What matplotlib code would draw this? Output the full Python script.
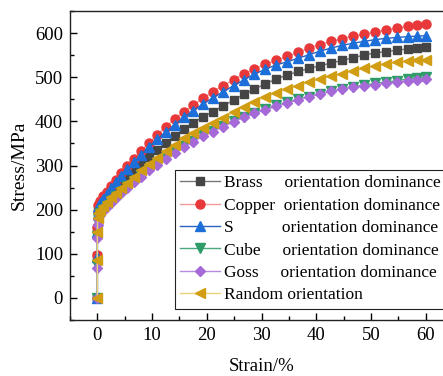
import matplotlib
matplotlib.use("Agg")
import matplotlib.pyplot as plt
from matplotlib.ticker import MultipleLocator

plt.rcParams['font.family'] = ['Liberation Serif', 'DejaVu Serif']

strain = [0, 0, 0, 0.05, 0.2, 0.5, 1.0, 1.7, 2.5, 3.4, 4.4, 5.5, 6.7, 8.0, 9.4, 10.9,
          12.5, 14.1, 15.8, 17.5, 19.3, 21.1, 23.0, 24.9, 26.8, 28.7, 30.7, 32.7,
          34.7, 36.7, 38.7, 40.7, 42.7, 44.7, 46.7, 48.7, 50.7, 52.7, 54.7, 56.7, 58.5, 60.0]

brass = [0, 95, 155, 188, 200, 210, 219, 229, 240, 251, 263, 276, 290, 304, 319, 335,
         352, 367, 382, 397, 410, 422, 435, 448, 461, 473, 485, 496,
         505, 513, 520, 526, 532, 538, 544, 550, 555, 558, 561, 564, 566, 568]

copper = [0, 97, 160, 195, 210, 220, 230, 240, 254, 268, 283, 298, 315, 333, 351, 369,
          388, 405, 422, 437, 452, 467, 481, 494, 507, 519, 529, 538,
          547, 556, 566, 574, 581, 587, 593, 597, 602, 607, 611, 615, 618, 620]

s_orient = [0, 92, 150, 190, 205, 215, 225, 236, 249, 262, 276, 291, 307, 324, 342, 359,
            376, 392, 409, 424, 439, 453, 467, 481, 494, 507, 518, 528,
            535, 543, 551, 559, 566, 572, 577, 581, 585, 588, 590, 592, 593, 594]

cube = [0, 75, 140, 170, 182, 192, 200, 209, 219, 230, 241, 253, 266, 279, 292, 305,
        318, 331, 344, 356, 368, 379, 390, 400, 410, 419, 428, 436,
        443, 450, 456, 462, 468, 473, 478, 482, 486, 489, 492, 496, 499, 501]

goss = [0, 67, 135, 165, 178, 188, 196, 205, 215, 226, 237, 249, 262, 275, 289, 302,
        315, 328, 341, 354, 366, 377, 388, 399, 409, 418, 426, 434,
        441, 449, 456, 462, 468, 473, 477, 480, 483, 486, 489, 492, 494, 496]

random_o = [0, 85, 150, 180, 192, 200, 208, 217, 228, 238, 249, 261, 275, 289, 303, 318,
            333, 347, 362, 374, 385, 396, 408, 421, 433, 444, 455, 465,
            473, 481, 489, 496, 502, 508, 514, 520, 525, 530, 534, 536, 538, 539]

labels = ["Brass     orientation dominance",
          "Copper  orientation dominance",
          "S           orientation dominance",
          "Cube     orientation dominance",
          "Goss     orientation dominance",
          "Random orientation"]

series = [brass, copper, s_orient, cube, goss, random_o]
markers = ['s', 'o', '^', 'v', 'D', '<']
mcolors = ['#454545', '#e8383a', '#1c6fd8', '#2e9c68', '#a66ad8', '#d19d12']
lcolors = ['#777777', '#f29a9a', '#2a62c0', '#4aa87e', '#b68ae0', '#ecd27a']
msizes = [5.5, 6.5, 6.5, 6.5, 5.5, 6.5]

fig = plt.figure(figsize=(4.43, 3.76), dpi=100)
ax = fig.add_axes([70/443, 1 - 320/376, 383/443, 309/376])

for y, m, mc, lc, ms, lab in zip(series, markers, mcolors, lcolors, msizes, labels):
    ax.plot(strain, y, color=lc, lw=1.0, marker=m, ms=ms, mfc=mc, mec=mc, label=lab)

ax.set_xlim(-5, 65)
ax.set_ylim(-50, 650)
ax.xaxis.set_minor_locator(MultipleLocator(5))
ax.yaxis.set_major_locator(MultipleLocator(100))
ax.yaxis.set_minor_locator(MultipleLocator(50))
ax.set_xticks([0, 10, 20, 30, 40, 50, 60])
ax.tick_params(which='both', direction='in', top=False, right=False, labelsize=13.5)
ax.tick_params(which='major', length=5, width=1, pad=5)
ax.tick_params(which='minor', length=3, width=1)
for sp in ax.spines.values():
    sp.set_linewidth(1.0)
    sp.set_color('#222222')

ax.set_xlabel("Strain/%", fontsize=13.5, labelpad=10)
ax.set_ylabel("Stress/MPa", fontsize=14, labelpad=5)

leg = ax.legend(loc='upper left', bbox_to_anchor=(175/443, 1 - 170/376),
                bbox_transform=fig.transFigure, fontsize=12.5, frameon=True,
                fancybox=False, edgecolor='#222222', framealpha=1,
                handlelength=2.3, handletextpad=0.2, labelspacing=0.36,
                borderpad=0.3, borderaxespad=0)
leg.get_frame().set_linewidth(0.8)

fig.savefig("out.png", dpi=100)
